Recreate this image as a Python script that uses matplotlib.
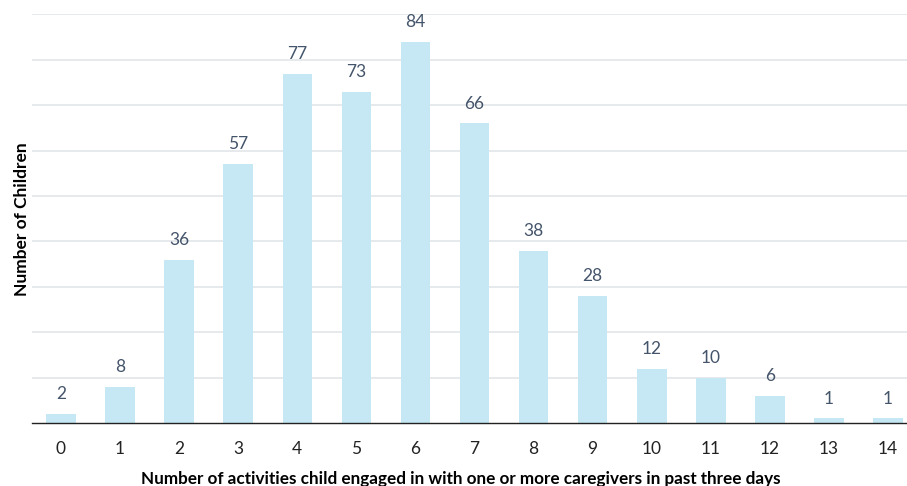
import matplotlib.pyplot as plt

activities = list(range(15))
children = [2, 8, 36, 57, 77, 73, 84, 66, 38, 28, 12, 10, 6, 1, 1]

BAR_COLOR = "#c5e8f4"
LABEL_COLOR = "#44546a"
GRID_COLOR = "#e3e6ea"

plt.rcParams["font.family"] = ["Lato", "DejaVu Sans"]

fig = plt.figure(figsize=(9.07, 4.86), dpi=100)
ax = fig.add_axes([32 / 907, 63 / 486, 1 - 32 / 907, 408.5 / 486])

bars = ax.bar(activities, children, width=0.5, color=BAR_COLOR, zorder=2)
for x, v in zip(activities, children):
    ax.text(x, v + 2.6, str(v), ha="center", va="bottom",
            fontsize=12.5, color=LABEL_COLOR)

ax.set_xlim(-0.49, 14.32)
ax.set_ylim(0, 90)
ax.set_yticks(range(10, 91, 10))
ax.set_yticklabels([])
ax.tick_params(axis="y", length=0)
ax.tick_params(axis="x", length=0, pad=13, labelsize=12.5, labelcolor="#222222")
ax.set_xticks(activities)
ax.grid(axis="y", color=GRID_COLOR, linewidth=1.2, zorder=0)

for side in ["top", "right", "left"]:
    ax.spines[side].set_visible(False)
ax.spines["bottom"].set_color("#222222")
ax.spines["bottom"].set_linewidth(1.0)

ax.set_xlabel("Number of activities child engaged in with one or more caregivers in past three days",
              fontsize=12.3, fontweight="bold", labelpad=10)
ax.xaxis.label.set_x(0.49)
ax.set_ylabel("Number of Children", fontsize=12.5, fontweight="bold", labelpad=-2)

fig.savefig("out.png", dpi=100)
